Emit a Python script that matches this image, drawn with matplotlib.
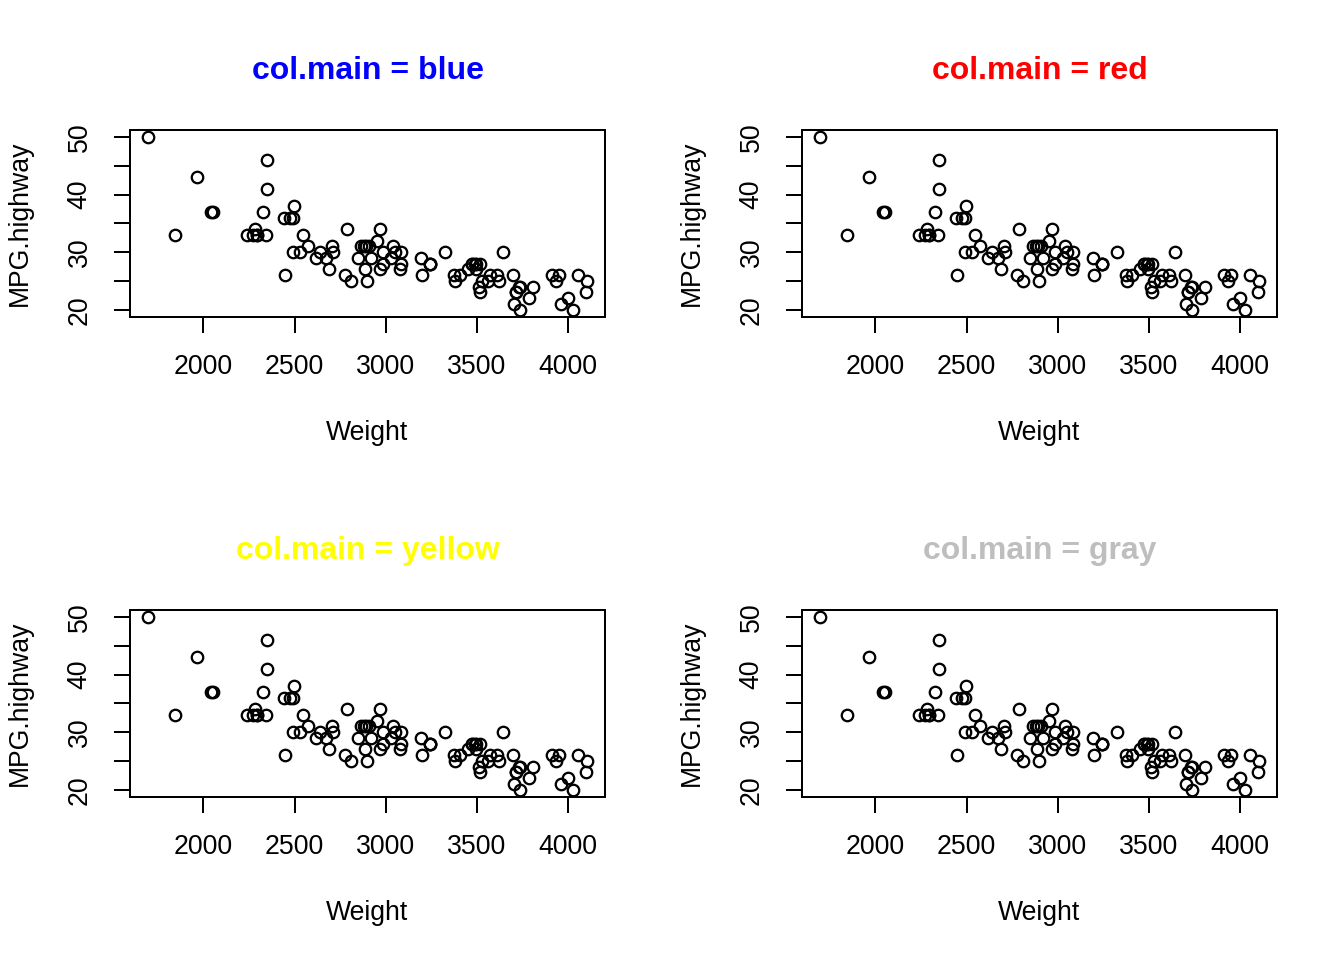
import matplotlib
matplotlib.use("Agg")
import matplotlib.pyplot as plt
import numpy as np

# Cars93: Weight vs MPG.highway
weight = [2705, 3560, 3375, 3405, 3640, 2880, 3470, 4105, 3495, 3620,
          3935, 2490, 2785, 3240, 3195, 3715, 4025, 3910, 3380, 3515,
          3085, 3570, 2270, 2670, 2970, 3705, 3080, 3805, 2295, 3490,
          1845, 2530, 2690, 2850, 2710, 3735, 3325, 3950, 1695, 2475,
          2865, 2350, 3040, 2345, 2620, 2285, 2885, 4000, 3510, 3515,
          3695, 4055, 2325, 2440, 2970, 3735, 2895, 2920, 3525, 2450,
          3610, 2295, 3730, 2545, 3050, 4100, 3200, 2910, 2890, 3715,
          3470, 2640, 2350, 2575, 3240, 3450, 3495, 2775, 2495, 2045,
          2490, 3085, 1965, 2055, 2950, 3030, 3785, 2240, 3960, 2985,
          2810, 2985, 3245]
mpg_highway = [31, 25, 26, 26, 30, 31, 28, 25, 27, 25,
               25, 36, 34, 28, 29, 23, 20, 26, 25, 28,
               28, 26, 33, 29, 27, 21, 27, 24, 33, 28,
               33, 30, 27, 29, 30, 20, 30, 26, 50, 36,
               31, 46, 31, 33, 29, 34, 27, 22, 24, 23,
               26, 26, 37, 36, 34, 24, 25, 29, 25, 26,
               26, 33, 24, 33, 30, 23, 26, 31, 31, 23,
               28, 30, 41, 31, 28, 27, 28, 26, 38, 37,
               30, 30, 43, 37, 32, 29, 22, 33, 21, 30,
               25, 28, 28]
title_colors = ["blue", "red", "yellow", "#BEBEBE"]
title_names = ["blue", "red", "yellow", "gray"]
x_ticks = [2000, 2500, 3000, 3500, 4000]
y_ticks = [20, 25, 30, 35, 40, 45, 50]
y_labels = ["20", "", "30", "", "40", "", "50"]

plt.rcParams['font.family'] = ['Liberation Sans', 'DejaVu Sans']
plt.rcParams['font.size'] = 10

W, H = 1344, 960
fig = plt.figure(figsize=(7, 5), dpi=192)

x = np.array(weight)
y = np.array(mpg_highway)
xr = x.max() - x.min()
yr = y.max() - y.min()

for i, (col, name) in enumerate(zip(title_colors, title_names)):
    r, c = divmod(i, 2)
    left = 130 + c * 672
    top = 130 + r * 480
    ax = fig.add_axes([left / W, 1 - (top + 186.7) / H, 475 / W, 186.7 / H])
    ax.plot(x, y, 'o', mfc='none', mec='black', ms=4.3, mew=0.85)
    ax.set_xlim(x.min() - 0.04 * xr, x.max() + 0.04 * xr)
    ax.set_ylim(y.min() - 0.04 * yr, y.max() + 0.04 * yr)
    ax.set_xticks(x_ticks)
    ax.set_yticks(y_ticks)
    ax.set_yticklabels(y_labels, rotation=90, va='center')
    ax.tick_params(direction='out', length=6, width=0.75, pad=8, labelsize=10)
    for s in ax.spines.values():
        s.set_linewidth(0.75)
    ax.set_xlabel("Weight", labelpad=15)
    ax.set_ylabel("MPG.highway", labelpad=12.5)
    ax.set_title(f"col.main = {name}", color=col, fontweight='bold',
                 fontsize=12, pad=19)

fig.savefig("out.png", dpi=192)
